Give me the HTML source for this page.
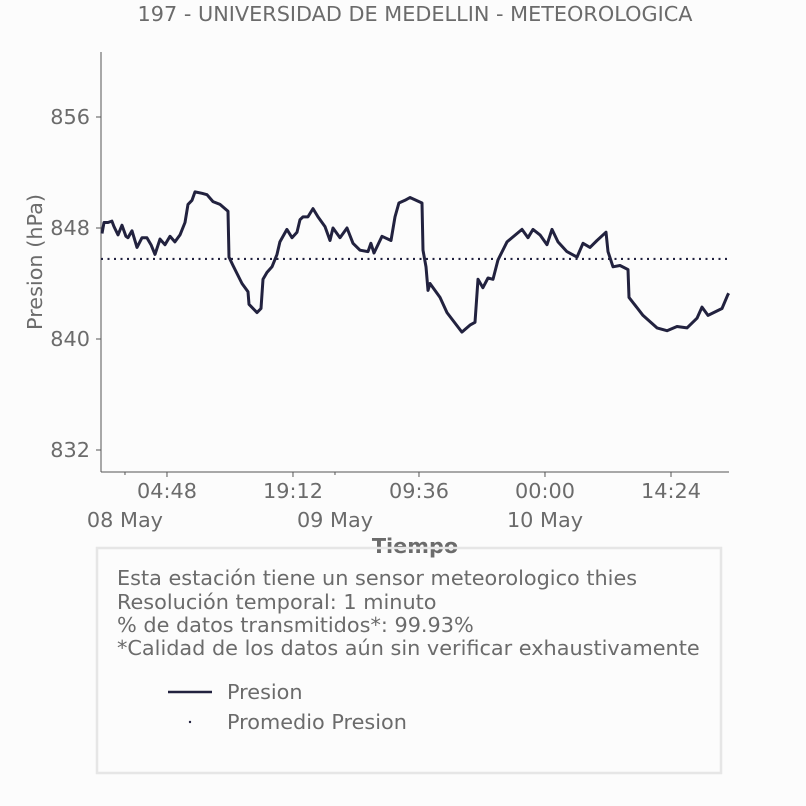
<!DOCTYPE html>
<html><head><meta charset="utf-8"><style>
body{margin:0;background:#fcfcfc;font-family:"Liberation Sans","DejaVu Sans",sans-serif;}
svg{display:block}
text{fill:#6b6b6b;font-family:"DejaVu Sans","Liberation Sans",sans-serif}
</style></head><body>
<svg id="chart" width="806" height="806">
<rect width="806" height="806" fill="#fcfcfc"/>
<text x="415" y="21" font-size="20.8" text-anchor="middle">197 - UNIVERSIDAD DE MEDELLIN - METEOROLOGICA</text>
<text transform="translate(42,262) rotate(-90)" font-size="20.8" text-anchor="middle">Presion (hPa)</text>
<text x="415" y="553" font-size="20.8" font-weight="bold" text-anchor="middle" fill="#777">Tiempo</text>
<line x1="101" y1="52" x2="101" y2="472" stroke="#555" stroke-width="1"/>
<line x1="101" y1="472" x2="729" y2="472" stroke="#555" stroke-width="1"/>
<g id="ticks"></g>
<g id="marks"></g>
<rect x="97" y="548" width="624" height="225" fill="none" stroke="#e6e6e6" stroke-width="2.5"/>
<g font-size="20.8">
<text x="117" y="585">Esta estación tiene un sensor meteorologico thies</text>
<text x="117" y="609">Resolución temporal: 1 minuto</text>
<text x="117" y="632">% de datos transmitidos*: 99.93%</text>
<text x="117" y="655">*Calidad de los datos aún sin verificar exhaustivamente</text>
<line x1="168" y1="692" x2="212" y2="692" stroke="#22223f" stroke-width="2.5"/>
<text x="227" y="699">Presion</text>
<circle cx="190" cy="722" r="1.2" fill="#22223f"/>
<text x="227" y="729">Promedio Presion</text>
</g>
</svg>
<script>
const hours=[-2.63,-2.4,-1.94,-1.49,-1.26,-0.8,-0.34,0.11,0.34,0.8,1.37,1.94,2.51,2.97,3.43,4.0,4.57,5.14,5.71,6.29,6.86,7.2,7.66,8.0,8.8,9.37,10.06,10.86,11.77,11.89,12.34,13.37,14.06,14.17,15.09,15.54,15.77,16.23,16.8,17.37,17.71,18.51,19.09,19.66,20.0,20.34,20.91,21.49,22.06,22.86,23.43,23.77,24.57,25.37,26.06,26.86,27.77,28.11,28.46,29.37,30.4,30.86,31.31,32.0,32.57,33.94,34.06,34.4,34.63,34.86,36.0,36.8,38.51,39.43,40.0,40.34,40.91,41.49,42.06,42.63,43.66,45.37,46.06,46.63,47.43,48.23,48.8,49.49,50.51,51.66,52.34,53.14,53.94,54.97,55.2,55.77,56.57,57.49,57.6,59.2,60.8,61.94,63.09,64.23,65.37,65.94,66.63,68.23,68.91,69.0];
const presion=[847.6,848.4,848.4,848.5,848.1,847.5,848.2,847.4,847.3,847.8,846.6,847.3,847.3,846.8,846.1,847.2,846.8,847.4,847.0,847.5,848.4,849.7,850.0,850.6,850.5,850.4,849.9,849.7,849.2,845.9,845.3,844.0,843.4,842.5,841.9,842.2,844.3,844.8,845.2,846.1,847.0,847.9,847.3,847.7,848.6,848.8,848.8,849.4,848.8,848.1,847.1,848.0,847.3,848.0,846.9,846.4,846.3,846.9,846.2,847.4,847.1,848.8,849.8,850.0,850.2,849.8,846.4,845.2,843.5,844.0,843.0,841.9,840.5,841.0,841.2,844.3,843.7,844.4,844.3,845.7,847.0,847.9,847.3,847.9,847.5,846.8,847.9,847.0,846.3,845.9,846.9,846.6,847.1,847.7,846.3,845.2,845.3,845.0,843.0,841.7,840.8,840.6,840.9,840.8,841.5,842.3,841.7,842.2,843.2,843.3];
const promedio=845.77;
const yTicks=[832,840,848,856];
const xTickHours=[4.8,19.2,33.6,48,62.4];
const xTickLabels=["04:48","19:12","09:36","00:00","14:24"];
const dayHours=[0,24,48];
const dayLabels=["08 May","09 May","10 May"];
const hMin=-2.74,hMax=69.03;
const X=h=>101+(h-hMin)/(hMax-hMin)*628;
const Y=v=>228-(v-848)*13.875;
const NS="http://www.w3.org/2000/svg";
const ticks=document.getElementById('ticks'),marks=document.getElementById('marks');
function mk(tag,attrs,parent){const e=document.createElementNS(NS,tag);for(const k in attrs)e.setAttribute(k,attrs[k]);parent.appendChild(e);return e;}
yTicks.forEach(v=>{
 const l=mk('line',{x1:96,x2:101,y1:Y(v),y2:Y(v),stroke:'#555'},ticks);
 
 
 const t=mk('text',{x:90,y:Y(v)+7,'font-size':20.8,'text-anchor':'end'},ticks);t.textContent=v;
 
 
});
xTickHours.forEach((h,i)=>{
 const l=mk('line',{x1:X(h),x2:X(h),y1:472,y2:477,stroke:'#555'},ticks);
 
 
 const t=mk('text',{x:X(h),y:498,'font-size':20.8,'text-anchor':'middle'},ticks);t.textContent=xTickLabels[i];
 
 
});
dayHours.forEach((h,i)=>{
 const l=mk('line',{x1:X(h),x2:X(h),y1:472,y2:475,stroke:'#555'},ticks);
 
 
 const t=mk('text',{x:X(h),y:527,'font-size':20.8,'text-anchor':'middle'},ticks);t.textContent=dayLabels[i];
 
 
});
const avg=mk('line',{x1:101,x2:729,y1:Y(promedio),y2:Y(promedio),stroke:'#22223f','stroke-width':2.2,'stroke-dasharray':'2 4.5'},marks);


const p=mk('polyline',{points:hours.map((h,i)=>X(h).toFixed(1)+','+Y(presion[i]).toFixed(1)).join(' '),fill:'none',stroke:'#22223f','stroke-width':3,'stroke-linejoin':'round'},marks);


</script>
</body></html>
